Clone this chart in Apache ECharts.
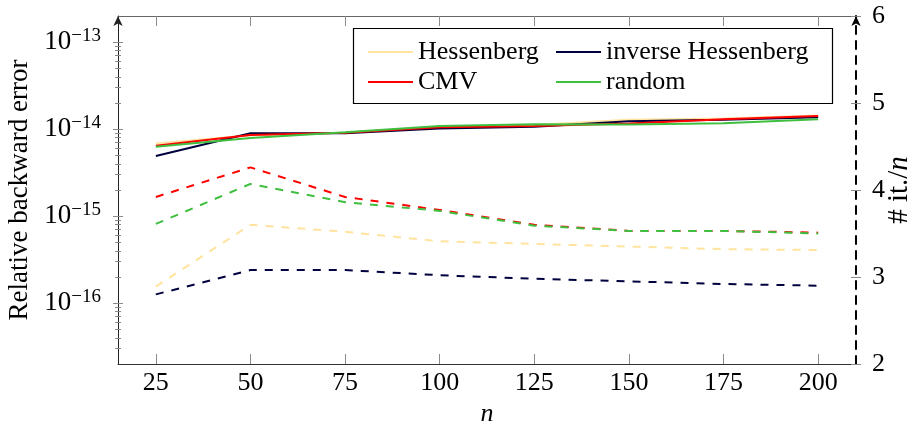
<!DOCTYPE html>
<html>
<head>
<meta charset="utf-8">
<script src="https://cdn.jsdelivr.net/npm/echarts@6/dist/echarts.min.js"></script>
<style>
html, body { margin: 0; padding: 0; background: #fff; }
#main { width: 912px; height: 425px; }
</style>
</head>
<body>
<div id="main"></div>
<script>
// problem sizes n
var sizes = [25, 50, 75, 100, 125, 150, 175, 200];

// relative backward error (solid, left log axis)
var errHessenberg = [6.85e-15, 8.5e-15, 9.1e-15, 1.07e-14, 1.12e-14, 1.28e-14, 1.33e-14, 1.44e-14];
var errInverse    = [4.93e-15, 9.0e-15, 9.0e-15, 1.02e-14, 1.07e-14, 1.23e-14, 1.28e-14, 1.37e-14];
var errCMV        = [6.44e-15, 8.6e-15, 9.1e-15, 1.05e-14, 1.09e-14, 1.16e-14, 1.30e-14, 1.42e-14];
var errRandom     = [6.3e-15, 7.9e-15, 9.2e-15, 1.09e-14, 1.14e-14, 1.13e-14, 1.17e-14, 1.30e-14];

// iterations / n (dashed, right axis)
var itHessenberg = [2.89, 3.60, 3.52, 3.41, 3.38, 3.35, 3.32, 3.31];
var itInverse    = [2.80, 3.08, 3.08, 3.02, 2.98, 2.95, 2.92, 2.90];
var itCMV        = [3.92, 4.26, 3.92, 3.77, 3.60, 3.53, 3.53, 3.51];
var itRandom     = [3.61, 4.07, 3.86, 3.76, 3.59, 3.53, 3.53, 3.50];

// ticks
var xTicks = [25, 50, 75, 100, 125, 150, 175, 200];
var errMajor = [1e-16, 1e-15, 1e-14, 1e-13];
var itTicks = [2, 3, 4, 5, 6];

var FONT = 'Liberation Serif';
var cHess = '#ffe39e', cInv = '#00003f', cCmv = '#ff0000', cRand = '#3fbf3f';

// log minor ticks 2..9 in each decade
var errMinor = [];
for (var d = -17; d <= -14; d++) {
    for (var k = 2; k <= 9; k++) {
        var v = k * Math.pow(10, d);
        if (v > 2.01e-17 && v < 1.99e-13) errMinor.push(v);
    }
}

function pairs(ys) {
    return sizes.map(function (n, i) { return [n, ys[i]]; });
}

var tickColor = '#8a8a8a';

function xAx(pos, showLabel) {
    return {
        type: 'value', min: 15, max: 210, position: pos,
        axisLine: { show: true, lineStyle: { color: pos == 'bottom' ? '#333' : '#666', width: 1 } },
        axisTick: { show: true, inside: true, length: 10, customValues: xTicks, lineStyle: { color: tickColor } },
        axisLabel: {
            show: showLabel, customValues: xTicks, margin: 6,
            fontFamily: FONT, fontSize: 26, color: '#000'
        },
        splitLine: { show: false },
        name: showLabel ? 'n' : '',
        nameLocation: 'middle', nameGap: 30,
        nameTextStyle: { fontFamily: FONT, fontSize: 26, fontStyle: 'italic', color: '#000' }
    };
}

function logAx(ticks, inside, len, main) {
    return {
        type: 'log', min: 2e-17, max: 2e-13, position: 'left',
        axisLine: main ? { show: true, symbol: ['none', 'arrow'], symbolSize: [7, 10], lineStyle: { color: '#222', width: 1 } } : { show: false },
        axisTick: { show: true, inside: inside, length: len, customValues: ticks, lineStyle: { color: tickColor } },
        axisLabel: main ? {
            show: true, customValues: errMajor, margin: 17,
            formatter: function (val) {
                var e = Math.round(Math.log10(val));
                return '{b|10}{s|\u2212' + Math.abs(e) + '}';
            },
            rich: {
                b: { fontFamily: FONT, fontSize: 27, lineHeight: 32, color: '#000' },
                s: { fontFamily: FONT, fontSize: 19, lineHeight: 18, verticalAlign: 'top', color: '#000' }
            }
        } : { show: false },
        splitLine: { show: false },
        minorTick: { show: false },
        name: main ? 'Relative backward error' : '',
        nameLocation: 'middle', nameGap: 82,
        nameTextStyle: { fontFamily: FONT, fontSize: 27, color: '#000' }
    };
}

function itAx(inside, main) {
    return {
        type: 'value', min: 2, max: 6, interval: 1, position: 'right',
        axisLine: main ? { show: true, symbol: ['none', 'arrow'], symbolSize: [7, 10], lineStyle: { color: '#000', width: 2, type: [8, 7] } } : { show: false },
        axisTick: { show: true, inside: inside, length: 5, lineStyle: { color: tickColor } },
        axisLabel: main ? { show: true, margin: 16, fontFamily: FONT, fontSize: 26, color: '#000' } : { show: false },
        splitLine: { show: false },
        name: main ? '# it./{i|n}' : '',
        nameLocation: 'middle', nameGap: 29, nameRotate: 90, nameMoveOverlap: false,
        nameTextStyle: {
            fontFamily: FONT, fontSize: 29, color: '#000',
            rich: { i: { fontFamily: FONT, fontSize: 29, fontStyle: 'italic', color: '#000' } }
        }
    };
}

function solid(name, color, ys) {
    return {
        name: name, type: 'line', xAxisIndex: 0, yAxisIndex: 0,
        data: pairs(ys), symbol: 'none',
        lineStyle: { color: color, width: 2 }, itemStyle: { color: color }
    };
}

function dashed(name, color, ys) {
    return {
        name: name, type: 'line', xAxisIndex: 0, yAxisIndex: 4,
        data: pairs(ys), symbol: 'none',
        lineStyle: { color: color, width: 2, type: [8, 8] }, itemStyle: { color: color }
    };
}

var legendText = { fontFamily: FONT, fontSize: 26, lineHeight: 26, color: '#000' };

var chart = echarts.init(document.getElementById('main'));
chart.setOption({
    animation: false,
    backgroundColor: '#fff',
    grid: { left: 118, right: 56, top: 16, bottom: 61, containLabel: false, outerBoundsMode: 'none' },
    xAxis: [xAx('bottom', true), xAx('top', false)],
    yAxis: [
        logAx(errMajor, false, 5, true),
        logAx(errMajor, true, 5, false),
        logAx(errMinor, false, 3, false),
        logAx(errMinor, true, 3, false),
        itAx(false, true),
        itAx(true, false)
    ],
    legend: [
        {
            data: ['Hessenberg', 'CMV'], orient: 'vertical', left: 363, top: 34,
            icon: 'rect', itemWidth: 45, itemHeight: 2, itemGap: 4, textStyle: legendText
        },
        {
            data: ['inverse Hessenberg', 'random'], orient: 'vertical', left: 551, top: 34,
            icon: 'rect', itemWidth: 45, itemHeight: 2, itemGap: 4, textStyle: legendText
        }
    ],
    graphic: [{
        type: 'rect', z: 3,
        shape: { x: 353.5, y: 28.5, width: 479, height: 75 },
        style: { fill: '#fff', stroke: '#000', lineWidth: 1.2 }
    }],
    series: [
        solid('Hessenberg', cHess, errHessenberg),
        solid('inverse Hessenberg', cInv, errInverse),
        solid('CMV', cCmv, errCMV),
        solid('random', cRand, errRandom),
        dashed('Hessenberg it', cHess, itHessenberg),
        dashed('inverse Hessenberg it', cInv, itInverse),
        dashed('CMV it', cCmv, itCMV),
        dashed('random it', cRand, itRandom)
    ]
});
</script>
</body>
</html>
